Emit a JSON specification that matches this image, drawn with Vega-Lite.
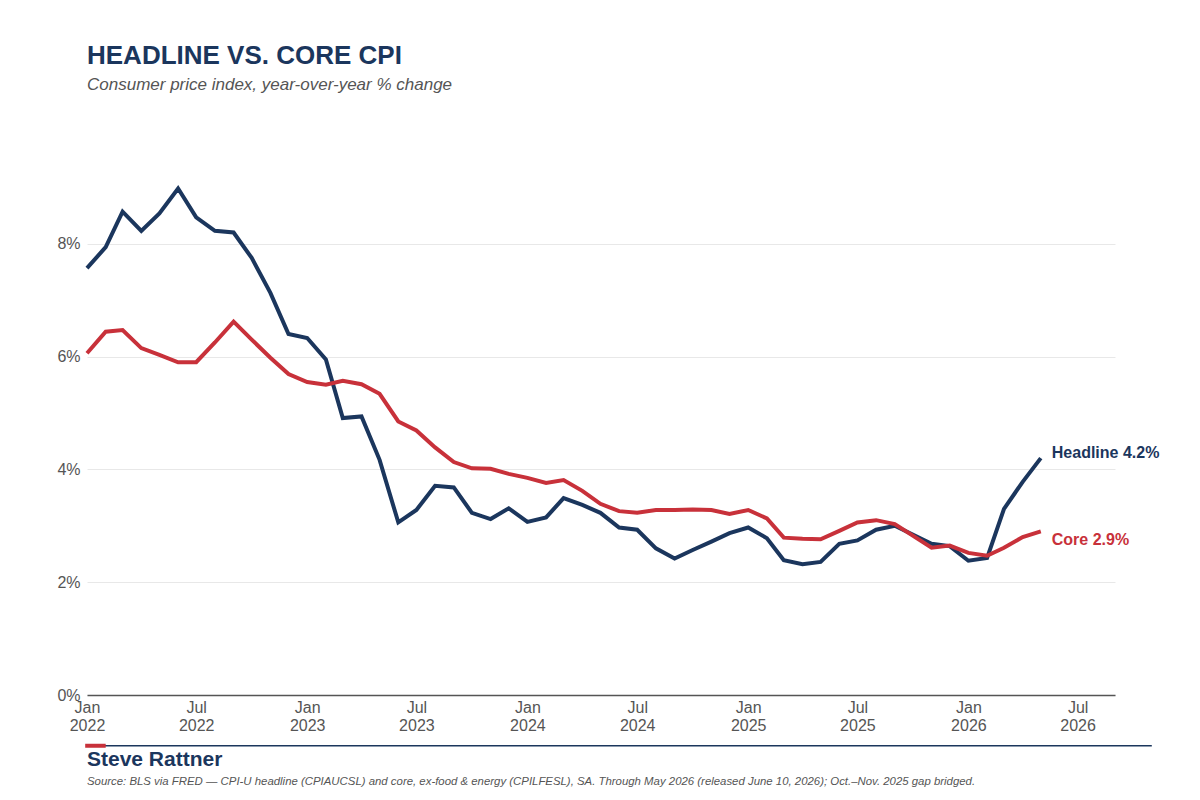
{
  "$schema": "https://vega.github.io/schema/vega-lite/v6.json",
  "width": 1028,
  "height": 564,
  "autosize": "none",
  "padding": {"left": 87, "top": 131, "right": 85, "bottom": 105},
  "background": "white",
  "config": {"view": {"stroke": null}, "font": "Liberation Sans"},
  "title": {
    "text": "HEADLINE VS. CORE CPI",
    "subtitle": "Consumer price index, year-over-year % change",
    "anchor": "start",
    "frame": "group",
    "offset": 38,
    "font": "Liberation Sans",
    "fontSize": 26,
    "fontWeight": "bold",
    "color": "#1b365d",
    "subtitleFont": "Liberation Sans",
    "subtitleFontSize": 17,
    "subtitleFontStyle": "italic",
    "subtitleColor": "#555555",
    "subtitlePadding": 8
  },
  "data": {
    "values": [
      {"date": "2022-01-01", "series": "Headline", "value": 7.57},
      {"date": "2022-02-01", "series": "Headline", "value": 7.94},
      {"date": "2022-03-01", "series": "Headline", "value": 8.57},
      {"date": "2022-04-01", "series": "Headline", "value": 8.23},
      {"date": "2022-05-01", "series": "Headline", "value": 8.54},
      {"date": "2022-06-01", "series": "Headline", "value": 8.98},
      {"date": "2022-07-01", "series": "Headline", "value": 8.47},
      {"date": "2022-08-01", "series": "Headline", "value": 8.23},
      {"date": "2022-09-01", "series": "Headline", "value": 8.2},
      {"date": "2022-10-01", "series": "Headline", "value": 7.75},
      {"date": "2022-11-01", "series": "Headline", "value": 7.13},
      {"date": "2022-12-01", "series": "Headline", "value": 6.4},
      {"date": "2023-01-01", "series": "Headline", "value": 6.33},
      {"date": "2023-02-01", "series": "Headline", "value": 5.95},
      {"date": "2023-03-01", "series": "Headline", "value": 4.91},
      {"date": "2023-04-01", "series": "Headline", "value": 4.94},
      {"date": "2023-05-01", "series": "Headline", "value": 4.17},
      {"date": "2023-06-01", "series": "Headline", "value": 3.06},
      {"date": "2023-07-01", "series": "Headline", "value": 3.28},
      {"date": "2023-08-01", "series": "Headline", "value": 3.71},
      {"date": "2023-09-01", "series": "Headline", "value": 3.68},
      {"date": "2023-10-01", "series": "Headline", "value": 3.23},
      {"date": "2023-11-01", "series": "Headline", "value": 3.12},
      {"date": "2023-12-01", "series": "Headline", "value": 3.31},
      {"date": "2024-01-01", "series": "Headline", "value": 3.07},
      {"date": "2024-02-01", "series": "Headline", "value": 3.15},
      {"date": "2024-03-01", "series": "Headline", "value": 3.49},
      {"date": "2024-04-01", "series": "Headline", "value": 3.37},
      {"date": "2024-05-01", "series": "Headline", "value": 3.23},
      {"date": "2024-06-01", "series": "Headline", "value": 2.97},
      {"date": "2024-07-01", "series": "Headline", "value": 2.93},
      {"date": "2024-08-01", "series": "Headline", "value": 2.6},
      {"date": "2024-09-01", "series": "Headline", "value": 2.42},
      {"date": "2024-10-01", "series": "Headline", "value": 2.57},
      {"date": "2024-11-01", "series": "Headline", "value": 2.72},
      {"date": "2024-12-01", "series": "Headline", "value": 2.87},
      {"date": "2025-01-01", "series": "Headline", "value": 2.97},
      {"date": "2025-02-01", "series": "Headline", "value": 2.78},
      {"date": "2025-03-01", "series": "Headline", "value": 2.39},
      {"date": "2025-04-01", "series": "Headline", "value": 2.32},
      {"date": "2025-05-01", "series": "Headline", "value": 2.36},
      {"date": "2025-06-01", "series": "Headline", "value": 2.68},
      {"date": "2025-07-01", "series": "Headline", "value": 2.74},
      {"date": "2025-08-01", "series": "Headline", "value": 2.93},
      {"date": "2025-09-01", "series": "Headline", "value": 3.0},
      {"date": "2025-11-01", "series": "Headline", "value": 2.68},
      {"date": "2025-12-01", "series": "Headline", "value": 2.64},
      {"date": "2026-01-01", "series": "Headline", "value": 2.38},
      {"date": "2026-02-01", "series": "Headline", "value": 2.43},
      {"date": "2026-03-01", "series": "Headline", "value": 3.3},
      {"date": "2026-04-01", "series": "Headline", "value": 3.78},
      {"date": "2026-05-01", "series": "Headline", "value": 4.2, "label": "Headline 4.2%"},
      {"date": "2022-01-01", "series": "Core", "value": 6.06},
      {"date": "2022-02-01", "series": "Core", "value": 6.44},
      {"date": "2022-03-01", "series": "Core", "value": 6.47},
      {"date": "2022-04-01", "series": "Core", "value": 6.15},
      {"date": "2022-05-01", "series": "Core", "value": 6.03},
      {"date": "2022-06-01", "series": "Core", "value": 5.9},
      {"date": "2022-07-01", "series": "Core", "value": 5.9},
      {"date": "2022-08-01", "series": "Core", "value": 6.25},
      {"date": "2022-09-01", "series": "Core", "value": 6.62},
      {"date": "2022-10-01", "series": "Core", "value": 6.3},
      {"date": "2022-11-01", "series": "Core", "value": 5.98},
      {"date": "2022-12-01", "series": "Core", "value": 5.69},
      {"date": "2023-01-01", "series": "Core", "value": 5.55},
      {"date": "2023-02-01", "series": "Core", "value": 5.5},
      {"date": "2023-03-01", "series": "Core", "value": 5.57},
      {"date": "2023-04-01", "series": "Core", "value": 5.51},
      {"date": "2023-05-01", "series": "Core", "value": 5.34},
      {"date": "2023-06-01", "series": "Core", "value": 4.85},
      {"date": "2023-07-01", "series": "Core", "value": 4.69},
      {"date": "2023-08-01", "series": "Core", "value": 4.39},
      {"date": "2023-09-01", "series": "Core", "value": 4.13},
      {"date": "2023-10-01", "series": "Core", "value": 4.02},
      {"date": "2023-11-01", "series": "Core", "value": 4.01},
      {"date": "2023-12-01", "series": "Core", "value": 3.92},
      {"date": "2024-01-01", "series": "Core", "value": 3.85},
      {"date": "2024-02-01", "series": "Core", "value": 3.76},
      {"date": "2024-03-01", "series": "Core", "value": 3.81},
      {"date": "2024-04-01", "series": "Core", "value": 3.62},
      {"date": "2024-05-01", "series": "Core", "value": 3.39},
      {"date": "2024-06-01", "series": "Core", "value": 3.26},
      {"date": "2024-07-01", "series": "Core", "value": 3.23},
      {"date": "2024-08-01", "series": "Core", "value": 3.28},
      {"date": "2024-09-01", "series": "Core", "value": 3.28},
      {"date": "2024-10-01", "series": "Core", "value": 3.29},
      {"date": "2024-11-01", "series": "Core", "value": 3.28},
      {"date": "2024-12-01", "series": "Core", "value": 3.21},
      {"date": "2025-01-01", "series": "Core", "value": 3.28},
      {"date": "2025-02-01", "series": "Core", "value": 3.13},
      {"date": "2025-03-01", "series": "Core", "value": 2.79},
      {"date": "2025-04-01", "series": "Core", "value": 2.77},
      {"date": "2025-05-01", "series": "Core", "value": 2.76},
      {"date": "2025-06-01", "series": "Core", "value": 2.91},
      {"date": "2025-07-01", "series": "Core", "value": 3.06},
      {"date": "2025-08-01", "series": "Core", "value": 3.1},
      {"date": "2025-09-01", "series": "Core", "value": 3.03},
      {"date": "2025-11-01", "series": "Core", "value": 2.61},
      {"date": "2025-12-01", "series": "Core", "value": 2.65},
      {"date": "2026-01-01", "series": "Core", "value": 2.52},
      {"date": "2026-02-01", "series": "Core", "value": 2.47},
      {"date": "2026-03-01", "series": "Core", "value": 2.61},
      {"date": "2026-04-01", "series": "Core", "value": 2.8},
      {"date": "2026-05-01", "series": "Core", "value": 2.9, "label": "Core 2.9%"}
    ]
  },
  "layer": [
    {
      "transform": [{"filter": "datum.series == 'Headline'"}],
      "mark": {"type": "line", "color": "#1b365d", "strokeWidth": 4},
      "encoding": {
        "x": {
          "field": "date",
          "type": "temporal",
          "scale": {
            "type": "utc",
            "domain": [
              {"year": 2022, "month": 1, "date": 1, "utc": true},
              {"year": 2026, "month": 9, "date": 1, "utc": true}
            ]
          },
          "axis": {
            "title": null,
            "values": [
              {"year": 2022, "month": 1, "date": 1, "utc": true},
              {"year": 2022, "month": 7, "date": 1, "utc": true},
              {"year": 2023, "month": 1, "date": 1, "utc": true},
              {"year": 2023, "month": 7, "date": 1, "utc": true},
              {"year": 2024, "month": 1, "date": 1, "utc": true},
              {"year": 2024, "month": 7, "date": 1, "utc": true},
              {"year": 2025, "month": 1, "date": 1, "utc": true},
              {"year": 2025, "month": 7, "date": 1, "utc": true},
              {"year": 2026, "month": 1, "date": 1, "utc": true},
              {"year": 2026, "month": 7, "date": 1, "utc": true}
            ],
            "labelExpr": "[utcFormat(datum.value, '%b'), utcFormat(datum.value, '%Y')]",
            "grid": false,
            "ticks": false,
            "domainColor": "#555555",
            "domainWidth": 1.5,
            "labelFont": "Liberation Sans",
            "labelFontSize": 16,
            "labelColor": "#555555",
            "labelPadding": 4,
            "labelLineHeight": 18,
            "labelFlush": false,
            "labelOverlap": false
          }
        },
        "y": {
          "field": "value",
          "type": "quantitative",
          "scale": {"domain": [0, 10], "nice": false},
          "axis": {
            "title": null,
            "values": [0, 2, 4, 6, 8],
            "labelExpr": "datum.value + '%'",
            "domain": false,
            "ticks": false,
            "gridColor": "#e8e8e8",
            "gridWidth": 1,
            "labelFont": "Liberation Sans",
            "labelFontSize": 16,
            "labelColor": "#555555",
            "labelPadding": 7
          }
        }
      }
    },
    {
      "transform": [{"filter": "datum.series == 'Core'"}],
      "mark": {"type": "line", "color": "#c8313a", "strokeWidth": 4},
      "encoding": {
        "x": {"field": "date", "type": "temporal"},
        "y": {"field": "value", "type": "quantitative"}
      }
    },
    {
      "transform": [{"filter": "datum.label && datum.series == 'Headline'"}],
      "mark": {"type": "text", "align": "left", "baseline": "middle", "dx": 11, "dy": -5, "fontSize": 16, "fontWeight": "bold", "color": "#1b365d"},
      "encoding": {
        "x": {"field": "date", "type": "temporal"},
        "y": {"field": "value", "type": "quantitative"},
        "text": {"field": "label"}
      }
    },
    {
      "transform": [{"filter": "datum.label && datum.series == 'Core'"}],
      "mark": {"type": "text", "align": "left", "baseline": "middle", "dx": 11, "dy": 9, "fontSize": 16, "fontWeight": "bold", "color": "#c8313a"},
      "encoding": {
        "x": {"field": "date", "type": "temporal"},
        "y": {"field": "value", "type": "quantitative"},
        "text": {"field": "label"}
      }
    },
    {
      "data": {"values": [{"part": "footer rule"}]},
      "mark": {"type": "rule", "color": "#1b365d", "strokeWidth": 1.5, "clip": false},
      "encoding": {
        "x": {"datum": {"year": 2022, "month": 1, "date": 1, "utc": true}, "type": "temporal"},
        "x2": {"datum": {"year": 2026, "month": 11, "date": 1, "utc": true}},
        "y": {"datum": -0.9, "type": "quantitative"}
      }
    },
    {
      "data": {"values": [{"part": "footer accent"}]},
      "mark": {"type": "rule", "color": "#c8313a", "strokeWidth": 4, "clip": false},
      "encoding": {
        "x": {"datum": {"year": 2021, "month": 12, "date": 29, "utc": true}, "type": "temporal"},
        "x2": {"datum": {"year": 2022, "month": 2, "date": 1, "utc": true}},
        "y": {"datum": -0.9, "type": "quantitative"}
      }
    },
    {
      "data": {"values": [{"text": "Steve Rattner"}]},
      "mark": {"type": "text", "align": "left", "baseline": "alphabetic", "fontSize": 21, "fontWeight": "bold", "color": "#1b365d", "clip": false},
      "encoding": {
        "x": {"datum": {"year": 2022, "month": 1, "date": 1, "utc": true}, "type": "temporal"},
        "y": {"datum": -1.25, "type": "quantitative"},
        "text": {"field": "text"}
      }
    },
    {
      "data": {"values": [{"text": "Source: BLS via FRED — CPI-U headline (CPIAUCSL) and core, ex-food & energy (CPILFESL), SA. Through May 2026 (released June 10, 2026); Oct.–Nov. 2025 gap bridged."}]},
      "mark": {"type": "text", "align": "left", "baseline": "alphabetic", "fontSize": 11.4, "fontStyle": "italic", "color": "#555555", "clip": false},
      "encoding": {
        "x": {"datum": {"year": 2022, "month": 1, "date": 1, "utc": true}, "type": "temporal"},
        "y": {"datum": -1.6, "type": "quantitative"},
        "text": {"field": "text"}
      }
    }
  ]
}
